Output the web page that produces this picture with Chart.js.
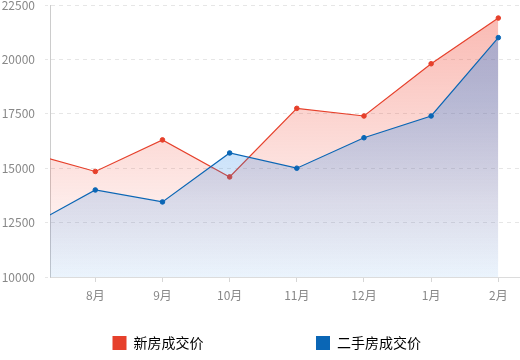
<!DOCTYPE html>
<html>
<head>
<meta charset="utf-8">
<script src="https://cdn.jsdelivr.net/npm/chart.js@4/dist/chart.umd.min.js"></script>
<style>
  html, body { margin: 0; padding: 0; background: #fff; }
  #wrap { width: 520px; height: 360px; }
</style>
</head>
<body>
<div id="wrap"><canvas id="priceChart"></canvas></div>
<script>
// months (7月 sits just left of the visible plot, only its line segment shows)
const months = ['7月', '8月', '9月', '10月', '11月', '12月', '1月', '2月'];
const newHouse = [15700, 14850, 16300, 14600, 17750, 17400, 19800, 21900];
const secondHand = [12300, 14000, 13450, 15700, 15000, 16400, 17400, 21000];
const seriesNames = ['新房成交价', '二手房成交价'];
const yTicks = [10000, 12500, 15000, 17500, 20000, 22500];

const red = '#e6402b';
const blue = '#0a66b5';

function toPoints(arr) {
    return arr.map((v, i) => ({ x: i, y: v }));
}

// vertical gradient over the chart area, stops = [[offset, alpha], ...]
function fillGradient(rgb, stops) {
    return function(ctx) {
        const area = ctx.chart.chartArea;
        if (!area) return 'rgba(' + rgb + ',' + stops[0][1] + ')';
        const g = ctx.chart.ctx.createLinearGradient(0, area.top, 0, area.bottom);
        stops.forEach(s => g.addColorStop(s[0], 'rgba(' + rgb + ',' + s[1] + ')'));
        return g;
    };
}

function spacer() {
    return { text: '', fillStyle: 'rgba(0,0,0,0)', strokeStyle: 'rgba(0,0,0,0)', lineWidth: 0, datasetIndex: -1, hidden: false };
}

Chart.defaults.font.family = '"Noto Sans CJK SC", "DejaVu Sans", sans-serif';

const ctx = document.getElementById('priceChart').getContext('2d');
new Chart(ctx, {
    type: 'line',
    data: {
        datasets: [{
            label: seriesNames[0],
            data: toPoints(newHouse),
            borderColor: red,
            borderWidth: 1.2,
            backgroundColor: fillGradient('240,60,40', [[0, 0.37], [1, 0.0]]),
            pointBackgroundColor: red,
            pointBorderColor: red,
            pointRadius: 2.3,
            pointBorderWidth: 1,
            fill: 'start',
            tension: 0,
            order: 2
        }, {
            label: seriesNames[1],
            data: toPoints(secondHand),
            borderColor: blue,
            borderWidth: 1.2,
            backgroundColor: fillGradient('30,130,230', [[0, 0.38], [0.35, 0.31], [0.72, 0.16], [1, 0.09]]),
            pointBackgroundColor: blue,
            pointBorderColor: blue,
            pointRadius: 2.3,
            pointBorderWidth: 1,
            fill: 'start',
            tension: 0,
            order: 1
        }]
    },
    options: {
        responsive: true,
        maintainAspectRatio: false,
        animation: false,
        layout: { autoPadding: false, padding: { top: 5, right: 0, left: 0, bottom: 0 } },
        scales: {
            x: {
                type: 'linear',
                min: 0.3256,
                max: 7.323,
                afterBuildTicks: function(scale) {
                    scale.ticks = months.slice(1).map((m, i) => ({ value: i + 1 }));
                },
                afterFit: function(scale) {
                    scale.height = 35.5;
                    scale.paddingLeft = 0;
                    scale.paddingRight = 0;
                },
                ticks: {
                    color: '#888',
                    font: { size: 12 },
                    padding: 6,
                    maxRotation: 0,
                    callback: function(value) { return months[value]; }
                },
                grid: {
                    drawOnChartArea: false,
                    drawTicks: true,
                    tickLength: 5,
                    color: '#d6d6d6'
                },
                border: { color: '#dcdcdc', width: 1 }
            },
            y: {
                min: yTicks[0],
                max: yTicks[yTicks.length - 1],
                afterBuildTicks: function(scale) {
                    scale.ticks = yTicks.map(v => ({ value: v }));
                },
                afterFit: function(scale) {
                    scale.width = 50;
                    scale.paddingTop = 0;
                    scale.paddingBottom = 0;
                },
                ticks: {
                    color: '#888',
                    font: { size: 12 },
                    padding: 10,
                    callback: function(value) { return String(value); }
                },
                grid: {
                    color: '#e6e6e6',
                    tickLength: 5,
                    tickBorderDash: [3, 3]
                },
                border: { color: '#cccccc', width: 1, dash: [4, 4] }
            }
        },
        plugins: {
            tooltip: { enabled: false },
            legend: {
                position: 'bottom',
                align: 'start',
                labels: {
                    color: '#555',
                    font: { size: 14 },
                    boxWidth: 14,
                    boxHeight: 14,
                    padding: 23.5,
                    generateLabels: function(chart) {
                        // empty spacers position the two entries like the original
                        return [
                            spacer(), spacer(),
                            { text: seriesNames[0], fillStyle: red, strokeStyle: red, lineWidth: 0, datasetIndex: 0, hidden: !chart.isDatasetVisible(0) },
                            spacer(), spacer(),
                            { text: seriesNames[1], fillStyle: blue, strokeStyle: blue, lineWidth: 0, datasetIndex: 1, hidden: !chart.isDatasetVisible(1) }
                        ];
                    }
                },
                onClick: function(e, item, legend) {
                    if (item.datasetIndex < 0) return;
                    const chart = legend.chart;
                    chart.setDatasetVisibility(item.datasetIndex, !chart.isDatasetVisible(item.datasetIndex));
                    chart.update();
                }
            }
        }
    }
});
</script>
</body>
</html>
